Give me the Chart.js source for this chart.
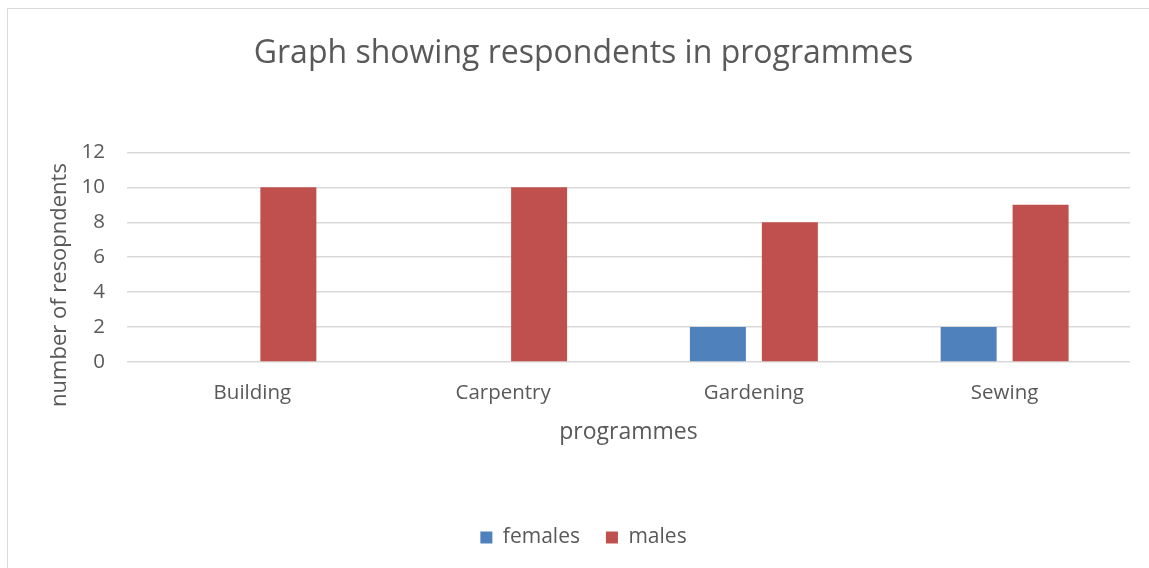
<!DOCTYPE html>
<html>
<head>
<meta charset="utf-8">
<script src="https://cdn.jsdelivr.net/npm/chart.js@4.4.1/dist/chart.umd.min.js"></script>
<style>
  body { margin: 0; background: #fff; }
  #wrap { position: relative; width: 1149px; height: 568px; overflow: hidden; }
  #frame { position: absolute; left: 7px; top: 8px; width: 1200px; height: 600px; border: 1px solid #d9d9d9; box-sizing: border-box; pointer-events: none; }
  canvas { position: absolute; left: 0; top: 0; }
</style>
</head>
<body>
<div id="wrap">
  <canvas id="chart" width="1149" height="568"></canvas>
  <div id="frame"></div>
</div>
<script>
var programmes = ['Building', 'Carpentry', 'Gardening', 'Sewing']
var females = [0, 0, 2, 2]
var males = [10, 10, 8, 9]
var yTicks = [0, 2, 4, 6, 8, 10, 12]

var textColor = '#595959'
var fontName = "'Open Sans', sans-serif"

// axis titles, drawn where Excel puts them
var axisTitles = {
    id: 'axisTitles',
    afterDraw: function(chart) {
        var ctx = chart.ctx
        var area = chart.chartArea
        ctx.save()
        ctx.fillStyle = textColor
        ctx.textAlign = 'center'
        ctx.textBaseline = 'middle'
        ctx.font = '23px ' + fontName
        ctx.fillText('programmes', (area.left + area.right) / 2, 432)
        ctx.font = '22px ' + fontName
        ctx.translate(60, 285)
        ctx.rotate(-Math.PI / 2)
        ctx.fillText('number of resopndents', 0, 0)
        ctx.restore()
    }
}

var chart = new Chart(document.getElementById('chart').getContext('2d'), {
    type: 'bar',
    data: {
        labels: programmes,
        datasets: [
            { label: 'females', data: females, backgroundColor: '#4f81bd' },
            { label: 'males', data: males, backgroundColor: '#c0504d' }
        ]
    },
    options: {
        responsive: false,
        animation: false,
        categoryPercentage: 0.574,
        barPercentage: 0.778,
        layout: { padding: { left: 37, right: 19, top: 0, bottom: 10 } },
        plugins: {
            title: {
                display: true,
                text: 'Graph showing respondents in programmes',
                color: textColor,
                font: { family: fontName, size: 32, weight: 'normal', lineHeight: 1.2 },
                padding: { top: 35, bottom: 79 }
            },
            legend: {
                position: 'bottom',
                labels: {
                    color: textColor,
                    boxWidth: 12,
                    boxHeight: 12,
                    padding: 26,
                    font: { family: fontName, size: 21 }
                }
            },
            tooltip: { enabled: false }
        },
        scales: {
            x: {
                grid: { display: false },
                border: { display: false },
                ticks: { color: textColor, padding: 11, font: { family: fontName, size: 20.5 } },
                afterFit: function(scale) { scale.height = 139 }
            },
            y: {
                min: 0,
                max: 12,
                afterBuildTicks: function(scale) {
                    scale.ticks = yTicks.map(function(v) { return { value: v } })
                },
                grid: { color: '#d9d9d9', lineWidth: 1.5, drawTicks: false },
                border: { display: false },
                ticks: { color: textColor, padding: 22, font: { family: fontName, size: 20.5 } },
                afterFit: function(scale) { scale.width = 90 }
            }
        }
    },
    plugins: [axisTitles]
})
</script>
</body>
</html>
